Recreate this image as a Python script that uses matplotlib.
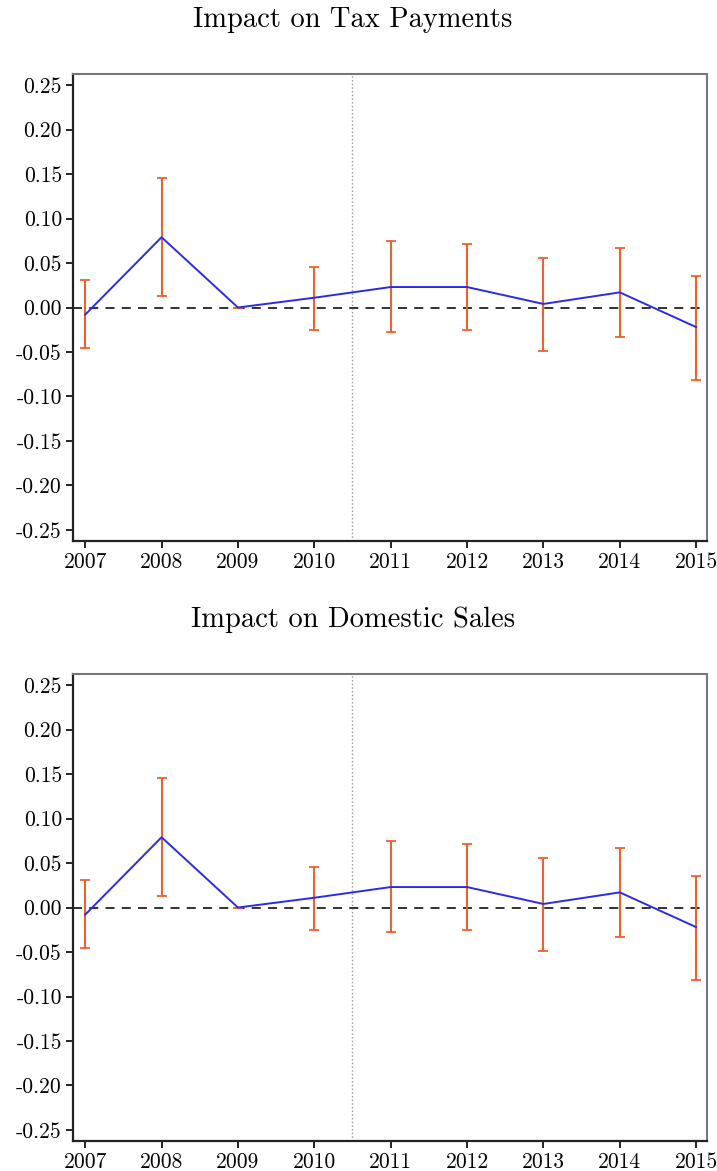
import numpy as np
import matplotlib
matplotlib.use('Agg')
import matplotlib.pyplot as plt

plt.rcParams['font.family'] = ['cmr10', 'DejaVu Serif']
plt.rcParams['axes.unicode_minus'] = False
plt.rcParams['mathtext.fontset'] = 'cm'

# Data
years = [2007, 2008, 2009, 2010, 2011, 2012, 2013, 2014, 2015]
estimates = [-0.008, 0.079, 0.0, 0.011, 0.023, 0.023, 0.004, 0.017, -0.022]
ci_upper = [0.031, 0.146, 0.0, 0.046, 0.075, 0.071, 0.056, 0.067, 0.035]
ci_lower = [-0.046, 0.013, 0.0, -0.025, -0.028, -0.025, -0.049, -0.033, -0.081]
titles = ['Impact on Tax Payments', 'Impact on Domestic Sales']
yticks = [0.25, 0.20, 0.15, 0.10, 0.05, 0.00, -0.05, -0.10, -0.15, -0.20, -0.25]
ytick_labels = ['0.25', '0.20', '0.15', '0.10', '0.05', '0.00',
                '-0.05', '-0.10', '-0.15', '-0.20', '-0.25']
policy_break = 2010.5

fig = plt.figure(figsize=(7.17, 11.71), dpi=100)
positions = [[0.1018, 0.538, 0.884, 0.3988], [0.1018, 0.0256, 0.884, 0.3988]]
title_y = [0.983, 0.471]

est = np.array(estimates)
yerr = np.vstack([est - np.array(ci_lower), np.array(ci_upper) - est])

for pos, title, ty in zip(positions, titles, title_y):
    ax = fig.add_axes(pos)
    ax.axvline(policy_break, color='#999999', linestyle=':', linewidth=1)
    ax.axhline(0, color='#222222', linestyle=(0, (5, 4)), linewidth=1.3)
    ax.errorbar(years, estimates, yerr=yerr, fmt='none', ecolor='#f0602c',
                elinewidth=1.5, capsize=3.5, capthick=1.3, zorder=3)
    ax.plot(years, estimates, color='#2b2bea', linewidth=1.4, zorder=4)

    ax.set_xlim(2006.84, 2015.14)
    ax.set_ylim(-0.2624, 0.2624)
    ax.set_xticks(years)
    ax.set_xticklabels([str(y) for y in years])
    ax.set_yticks(yticks)
    ax.set_yticklabels(ytick_labels)
    ax.tick_params(labelsize=15.5, direction='out', length=5, width=1.2, pad=3)

    for side in ['left', 'bottom']:
        ax.spines[side].set_linewidth(1.6)
        ax.spines[side].set_color('#222222')
    for side in ['top', 'right']:
        ax.spines[side].set_linewidth(1.5)
        ax.spines[side].set_color('#777777')

    fig.text(0.492, ty, title, fontsize=20.5, ha='center', va='center')

plt.savefig('out.png', dpi=100)
